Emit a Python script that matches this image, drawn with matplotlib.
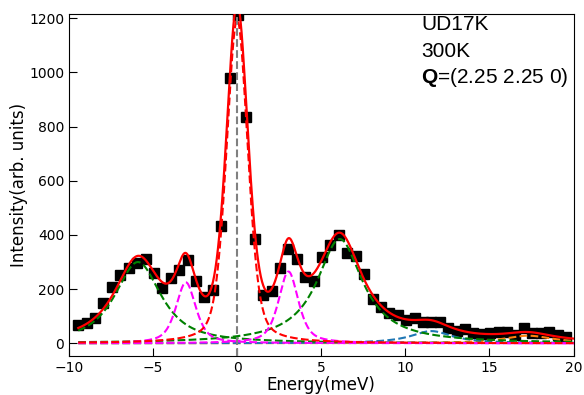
import matplotlib.pyplot as plt
import numpy as np

plt.rcParams['mathtext.fontset'] = 'custom'
plt.rcParams['mathtext.bf'] = 'Liberation Sans:bold'
plt.rcParams['mathtext.rm'] = 'Liberation Sans'

# measured points (energy in meV, intensity)
energy = [-9.45, -8.95, -8.45, -7.95, -7.45, -6.95, -6.45, -5.95, -5.45, -4.95,
          -4.45, -3.95, -3.45, -2.95, -2.45, -1.95, -1.45, -0.95, -0.45, 0.05,
          0.55, 1.05, 1.55, 2.05, 2.55, 3.05, 3.55, 4.05, 4.55, 5.05,
          5.55, 6.05, 6.55, 7.05, 7.55, 8.05, 8.55, 9.05, 9.55, 10.05,
          10.55, 11.05, 11.55, 12.05, 12.55, 13.05, 13.55, 14.05, 14.55, 15.05,
          15.55, 16.05, 16.55, 17.05, 17.55, 18.05, 18.55, 19.05, 19.55]
intensity = [66, 75, 92, 148, 207, 251, 278, 297, 311, 260,
             204, 240, 272, 309, 229, 170, 198, 433, 981, 1212,
             836, 384, 180, 193, 278, 348, 311, 245, 230, 319,
             364, 399, 335, 322, 254, 165, 133, 110, 106, 85,
             95, 79, 79, 79, 58, 45, 54, 39, 35, 37,
             42, 42, 32, 57, 37, 37, 42, 29, 24]

# fitted peak components: centre, height, half width, lorentzian fraction
centers = [0.0, -3.05, 3.05, -5.9, 6.1, 11.55, 17.3]
heights = [1195, 225, 265, 300, 385, 45, 28]
widths = [0.75, 0.7, 0.7, 1.65, 1.65, 1.5, 1.8]
etas = [0.35, 0.6, 0.6, 0.85, 1.0, 1.0, 1.0]
colors = ['red', 'magenta', 'magenta', 'green', 'green', '#1f77b4', '#ff7f0e']

labels = ['UD17K', '300K', r'$\mathbf{Q}$=(2.25 2.25 0)']


def peak(x, c, h, w, eta):
    d2 = (x - c) ** 2
    return h * (eta * w ** 2 / (d2 + w ** 2) + (1 - eta) * np.exp(-np.log(2) * d2 / w ** 2))


x = np.linspace(energy[0], 20.05, 800)
parts = [peak(x, c, h, w, e) for c, h, w, e in zip(centers, heights, widths, etas)]

fig = plt.figure(figsize=(5.84, 3.95), dpi=100)
ax = fig.add_axes([69 / 584, 1 - 356 / 395, 504.5 / 584, 342 / 395])

ax.plot(energy, intensity, 's', color='black', markersize=6.5, zorder=1)
for p, col in zip(parts[::-1], colors[::-1]):
    ax.plot(x, p, '--', color=col, lw=1.5, zorder=2)
ax.plot(x, np.sum(parts, axis=0), '-', color='red', lw=1.6, zorder=3)
ax.axvline(0, color='gray', ls='--', lw=1.5, zorder=4)

ax.set_xlim(-10, 20)
ax.set_ylim(-47, 1216)
ax.set_xticks([-10, -5, 0, 5, 10, 15, 20])
ax.set_yticks([0, 200, 400, 600, 800, 1000, 1200])
ax.tick_params(direction='in', length=6, labelsize=10)
ax.set_xlabel('Energy(meV)', fontsize=12, labelpad=0.5)
ax.set_ylabel('Intensity(arb. units)', fontsize=12, labelpad=1)

for i, s in enumerate(labels):
    fig.text(421 / 584, 1 - (30 + 26.7 * i) / 395, s, fontsize=15,
             family='Liberation Sans', va='baseline')

fig.savefig('out.png')
